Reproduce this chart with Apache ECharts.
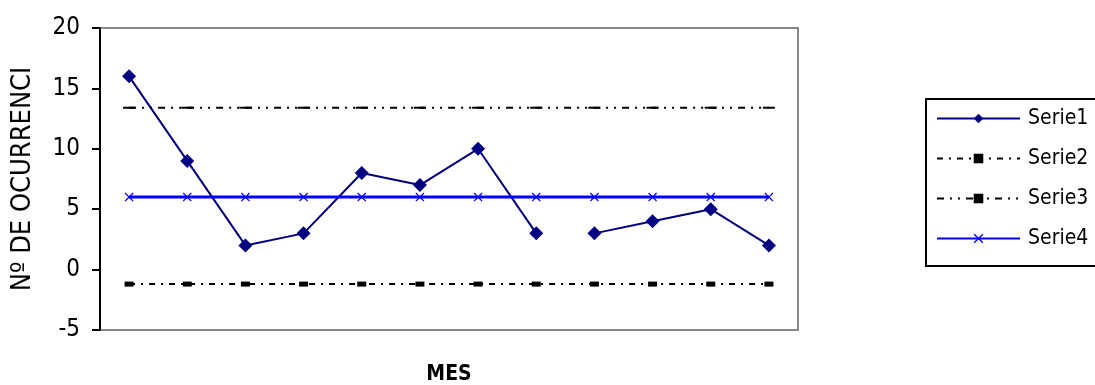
<!DOCTYPE html>
<html>
<head>
<meta charset="utf-8">
<script src="https://cdn.jsdelivr.net/npm/echarts@6/dist/echarts.min.js"></script>
<style>
html,body{margin:0;padding:0;background:#fff;}
#c{width:1095px;height:385px;}
</style>
</head>
<body>
<div id="c"></div>
<script>
var categories = ['1','2','3','4','5','6','7','8','9','10','11','12'];
var serie1 = [16, 9, 2, 3, 8, 7, 10, 3, 3, 4, 5, 2];
var serie2 = [-1.2, -1.2, -1.2, -1.2, -1.2, -1.2, -1.2, -1.2, -1.2, -1.2, -1.2, -1.2];
var serie3 = [13.4, 13.4, 13.4, 13.4, 13.4, 13.4, 13.4, 13.4, 13.4, 13.4, 13.4, 13.4];
var serie4 = [6, 6, 6, 6, 6, 6, 6, 6, 6, 6, 6, 6];
var yTicks = [-5, 0, 5, 10, 15, 20];
var breakAfter = 7; // Serie1 line is not drawn between the 8th and 9th points

var seg1 = serie1.map(function(v, i){ return i <= breakAfter ? v : null; });
var seg2 = serie1.map(function(v, i){ return i > breakAfter ? v : null; });

var FONT = '"DejaVu Sans Condensed", "Liberation Sans Narrow", "Liberation Sans", sans-serif';
var xSym = 'path://M0,1L1,0L5,4L9,0L10,1L6,5L10,9L9,10L5,6L1,10L0,9L4,5Z';

var chart = echarts.init(document.getElementById('c'), null, {renderer:'canvas'});
chart.setOption({
  animation: false,
  backgroundColor: '#fff',
  grid: {left: 100, right: 297, top: 28, bottom: 55, containLabel: false, outerBoundsMode: 'none',
         show: true, borderColor: '#888', borderWidth: 2, backgroundColor: 'transparent'},
  xAxis: {
    type: 'category', data: categories, boundaryGap: true,
    axisLine: {show: false}, axisTick: {show: false}, axisLabel: {show: false}, splitLine: {show: false},
    name: 'MES', nameLocation: 'middle', nameGap: 34,
    nameTextStyle: {fontFamily: FONT, fontSize: 21, fontWeight: 'bold', color: '#000'}
  },
  yAxis: {
    type: 'value', min: yTicks[0], max: yTicks[yTicks.length-1], interval: 5,
    axisLine: {show: true, onZero: false, lineStyle: {color: '#000', width: 2}},
    axisTick: {show: true, length: 8, lineStyle: {color: '#000', width: 2}},
    axisLabel: {fontFamily: FONT, fontSize: 24, color: '#000', margin: 20},
    splitLine: {show: false},
    name: 'Nº DE OCURRENCI', nameLocation: 'middle', nameGap: 64, nameRotate: 90,
    nameTextStyle: {fontFamily: FONT, fontSize: 27, color: '#000'}
  },
  legend: {
    orient: 'vertical', left: 926, top: 99,
    data: ['Serie1', 'Serie2', 'Serie3', 'Serie4'],
    itemWidth: 83, itemHeight: 12, itemGap: 19,
    padding: [9, 60, 17, 10],
    borderColor: '#000', borderWidth: 2,
    textStyle: {fontFamily: FONT, fontSize: 21, color: '#000', padding: [0, 0, 0, 3]}
  },
  series: [
    {name: 'Serie1', type: 'line', data: seg1, connectNulls: false,
     symbol: 'diamond', symbolSize: 14, itemStyle: {color: '#000080'},
     lineStyle: {color: '#000080', width: 2}},
    {name: 'Serie1', type: 'line', data: seg2, connectNulls: false,
     symbol: 'diamond', symbolSize: 14, itemStyle: {color: '#000080'},
     lineStyle: {color: '#000080', width: 2}},
    {name: 'Serie2', type: 'line', data: serie2,
     symbol: 'rect', symbolSize: [9, 5], itemStyle: {color: '#000'},
     lineStyle: {color: '#000', width: 2, type: [6, 6, 2, 6]}},
    {name: 'Serie3', type: 'line', data: serie3,
     symbol: 'rect', symbolSize: [12, 2], itemStyle: {color: '#000'},
     lineStyle: {color: '#000', width: 2, type: [7, 6, 2, 6, 2, 6]}},
    {name: 'Serie4', type: 'line', data: serie4,
     symbol: xSym, symbolSize: 9, itemStyle: {color: '#0000ff'},
     lineStyle: {color: '#0000ff', width: 3}}
  ]
});
</script>
</body>
</html>
